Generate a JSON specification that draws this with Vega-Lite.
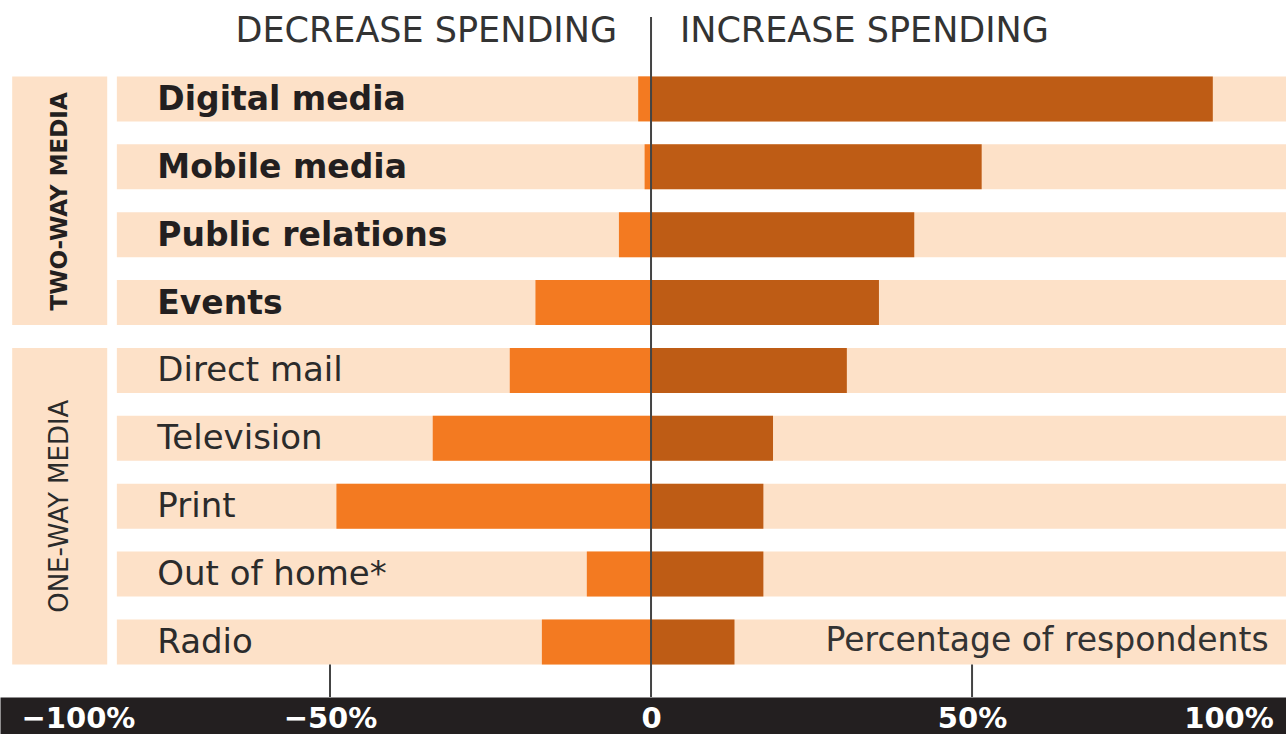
{
  "$schema": "https://vega.github.io/schema/vega-lite/v6.json",
  "width": 1286,
  "height": 697,
  "padding": 0,
  "autosize": {"type": "pad"},
  "background": "white",
  "view": {"stroke": null},
  "config": {
    "axisX": {"grid": false, "title": null, "ticks": false},
    "text": {"font": "DejaVu Sans"}
  },
  "resolve": {"axis": {"x": "independent"}},
  "datasets": {
    "media": [
      {"media": "Digital media", "group": "two", "dec": -2, "inc": 87.5},
      {"media": "Mobile media", "group": "two", "dec": -1, "inc": 51.5},
      {"media": "Public relations", "group": "two", "dec": -5, "inc": 41},
      {"media": "Events", "group": "two", "dec": -18, "inc": 35.5},
      {"media": "Direct mail", "group": "one", "dec": -22, "inc": 30.5},
      {"media": "Television", "group": "one", "dec": -34, "inc": 19},
      {"media": "Print", "group": "one", "dec": -49, "inc": 17.5},
      {"media": "Out of home*", "group": "one", "dec": -10, "inc": 17.5},
      {"media": "Radio", "group": "one", "dec": -17, "inc": 13}
    ],
    "groups": [
      {"group": "TWO-WAY MEDIA", "first": "Digital media", "last": "Events", "anchor": "Mobile media"},
      {"group": "ONE-WAY MEDIA", "first": "Direct mail", "last": "Radio", "anchor": "Print"}
    ]
  },
  "layer": [
    {
      "data": {"name": "groups"},
      "mark": {"type": "rect", "color": "#FDE1C8"},
      "encoding": {
        "x": {"datum": -99.5, "type": "quantitative", "axis": null, "scale": {"domain": [-101.4, 98.9], "nice": false, "zero": false}},
        "x2": {"datum": -84.7},
        "y": {"field": "first", "type": "nominal", "bandPosition": 0, "axis": null,
              "scale": {"domain": ["header", "Digital media", "Mobile media", "Public relations", "Events", "Direct mail", "Television", "Print", "Out of home*", "Radio"], "paddingInner": 0.337, "paddingOuter": 0.302, "align": 0.207}},
        "y2": {"field": "last", "bandPosition": 1}
      }
    },
    {
      "data": {"name": "media"},
      "mark": {"type": "bar", "color": "#FDE1C8"},
      "encoding": {
        "x": {"datum": -83.2, "type": "quantitative", "axis": null},
        "x2": {"datum": 98.9},
        "y": {"field": "media", "type": "nominal", "axis": null}
      }
    },
    {
      "data": {"name": "media"},
      "mark": {"type": "bar", "color": "#F37A21"},
      "encoding": {
        "x": {"field": "dec", "type": "quantitative",
              "axis": {"orient": "bottom", "offset": 21.5, "domain": true, "domainWidth": 43, "domainColor": "#231F20", "domainCap": "butt", "labels": false, "ticks": false, "zindex": 0, "title": null}},
        "x2": {"datum": 0},
        "y": {"field": "media", "type": "nominal", "axis": null}
      }
    },
    {
      "data": {"name": "media"},
      "mark": {"type": "bar", "color": "#BE5C15"},
      "encoding": {
        "x": {"field": "inc", "type": "quantitative",
              "axis": {"orient": "bottom", "offset": 21.5, "domain": false, "ticks": false, "zindex": 2, "title": null,
                       "values": [-100, -50, 0, 50, 98.8],
                       "labelExpr": "datum.value > 98 ? '100%' : datum.value == 0 ? '0' : format(datum.value, 'd') + '%'",
                       "labelColor": "#FFFFFF", "labelFont": "DejaVu Sans", "labelFontWeight": "bold", "labelFontSize": 29,
                       "labelBaseline": "middle", "labelPadding": 0, "labelFlush": 10, "labelFlushOffset": -12, "labelOverlap": false}},
        "x2": {"datum": 0},
        "y": {"field": "media", "type": "nominal", "axis": null}
      }
    },
    {
      "data": {"name": "media"},
      "transform": [{"filter": "datum.group == 'two'"}],
      "mark": {"type": "text", "align": "left", "baseline": "middle", "fontSize": 33, "fontWeight": "bold", "color": "#231F20", "dy": 1},
      "encoding": {
        "x": {"datum": -76.9, "type": "quantitative", "axis": null},
        "y": {"field": "media", "type": "nominal", "axis": null},
        "text": {"field": "media"}
      }
    },
    {
      "data": {"name": "media"},
      "transform": [{"filter": "datum.group == 'one'"}],
      "mark": {"type": "text", "align": "left", "baseline": "middle", "fontSize": 34, "fontWeight": "normal", "color": "#2b2b2b", "dy": 1},
      "encoding": {
        "x": {"datum": -76.9, "type": "quantitative", "axis": null},
        "y": {"field": "media", "type": "nominal", "axis": null},
        "text": {"field": "media"}
      }
    },
    {
      "data": {"name": "groups"},
      "transform": [{"filter": "datum.group == 'TWO-WAY MEDIA'"}],
      "mark": {"type": "text", "angle": 270, "align": "center", "baseline": "middle", "fontSize": 23, "fontWeight": "bold", "color": "#231F20"},
      "encoding": {
        "x": {"datum": -92.05, "type": "quantitative", "axis": null},
        "y": {"field": "anchor", "type": "nominal", "bandPosition": 1.27, "axis": null},
        "text": {"field": "group"}
      }
    },
    {
      "data": {"name": "groups"},
      "transform": [{"filter": "datum.group == 'ONE-WAY MEDIA'"}],
      "mark": {"type": "text", "angle": 270, "align": "center", "baseline": "middle", "fontSize": 26, "fontWeight": "normal", "color": "#2b2b2b"},
      "encoding": {
        "x": {"datum": -92.05, "type": "quantitative", "axis": null},
        "y": {"field": "anchor", "type": "nominal", "bandPosition": 0.5, "axis": null},
        "text": {"field": "group"}
      }
    },
    {
      "data": {"values": [{"row": "header", "label": "DECREASE SPENDING"}]},
      "mark": {"type": "text", "align": "right", "baseline": "middle", "fontSize": 35, "color": "#333333"},
      "encoding": {
        "x": {"datum": -5.3, "type": "quantitative", "axis": null},
        "y": {"field": "row", "type": "nominal", "axis": null},
        "text": {"field": "label"}
      }
    },
    {
      "data": {"values": [{"row": "header", "label": "INCREASE SPENDING"}]},
      "mark": {"type": "text", "align": "left", "baseline": "middle", "fontSize": 35, "color": "#333333"},
      "encoding": {
        "x": {"datum": 4.5, "type": "quantitative", "axis": null},
        "y": {"field": "row", "type": "nominal", "axis": null},
        "text": {"field": "label"}
      }
    },
    {
      "data": {"values": [{"row": "Radio", "label": "Percentage of respondents"}]},
      "mark": {"type": "text", "align": "right", "baseline": "middle", "fontSize": 33, "color": "#333333", "dy": -1},
      "encoding": {
        "x": {"datum": 96.2, "type": "quantitative", "axis": null},
        "y": {"field": "row", "type": "nominal", "axis": null},
        "text": {"field": "label"}
      }
    },
    {
      "data": {"values": [{"row": "header", "v": 0}]},
      "mark": {"type": "rule", "color": "#444444", "strokeWidth": 2},
      "encoding": {
        "x": {"field": "v", "type": "quantitative", "axis": null},
        "y": {"field": "row", "type": "nominal", "bandPosition": 0.19, "axis": null},
        "y2": {"value": "height"}
      }
    },
    {
      "data": {"values": [{"row": "Radio", "v": -50}, {"row": "Radio", "v": 50}]},
      "mark": {"type": "rule", "color": "#444444", "strokeWidth": 2},
      "encoding": {
        "x": {"field": "v", "type": "quantitative", "axis": null},
        "y": {"field": "row", "type": "nominal", "bandPosition": 1, "axis": null},
        "y2": {"value": "height"}
      }
    }
  ]
}
